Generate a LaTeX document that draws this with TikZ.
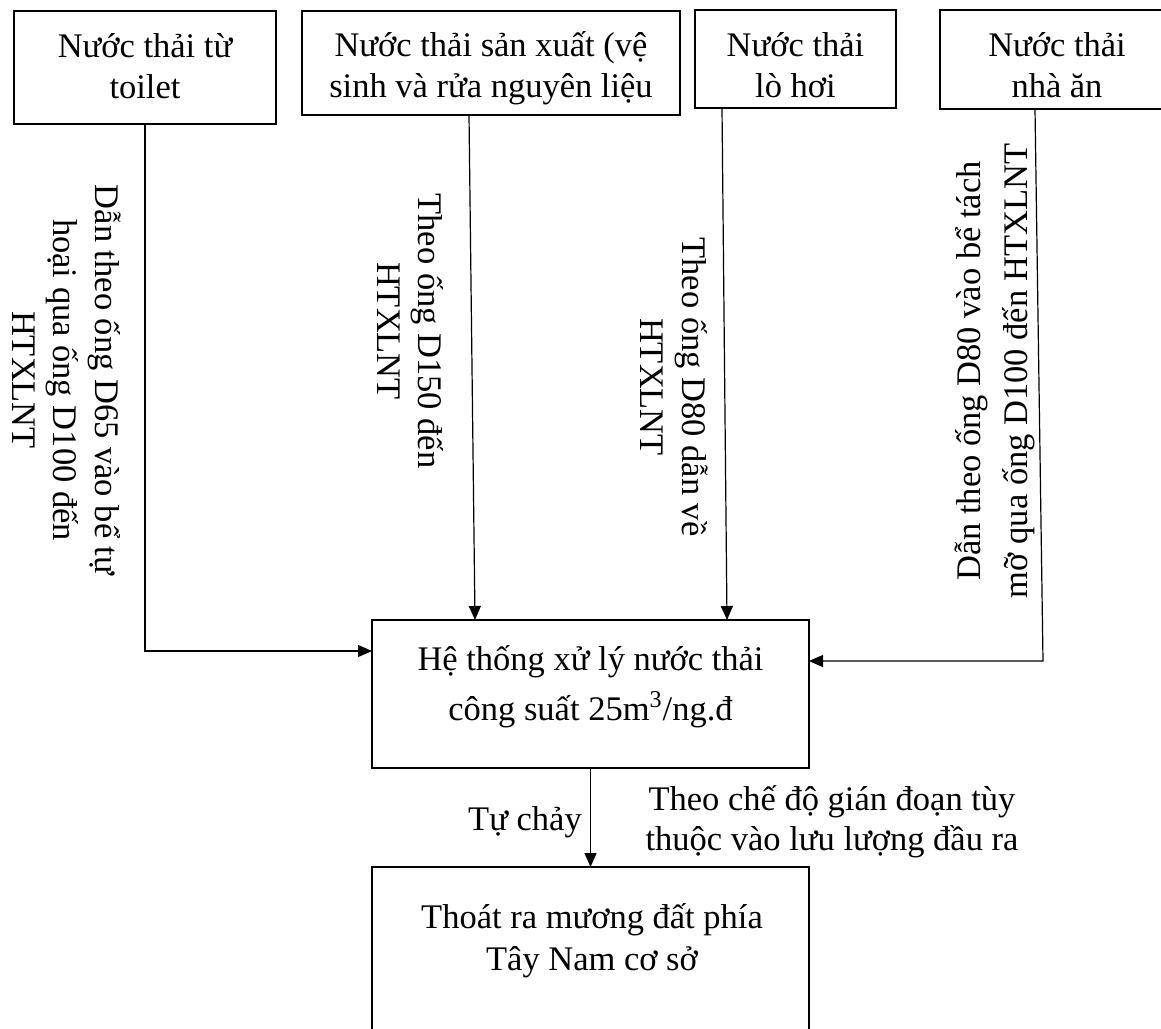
\documentclass[tikz,border=0pt]{standalone}
\usepackage{fontspec}
\setmainfont{Liberation Serif}
\usetikzlibrary{calc,arrows.meta}
\begin{document}
\begin{tikzpicture}[x=0.5pt,y=-0.5pt,
  box/.style={draw,line width=1.2pt,inner sep=0pt,outer sep=0pt,anchor=north west},
  lbl/.style={inner sep=0pt,anchor=base,align=center,font=\fontsize{17.25pt}{20.5pt}\selectfont},
  pipe/.style={line width=0.6pt},
  flow/.style={pipe,-{Triangle[length=7pt,width=6pt]}}]
\useasboundingbox (0,0) rectangle (1161,1028);
\clip (0,0) rectangle (1161,1028);

% source boxes
\node[box,minimum width=131pt,minimum height=56.5pt] (b1) at (14,11) {};
\node[box,minimum width=189pt,minimum height=52pt] (b2) at (302,11) {};
\node[box,minimum width=100.5pt,minimum height=49pt] (b3) at (695,10) {};
\node[box,minimum width=117pt,minimum height=49.5pt] (b4) at (940,10) {};
% treatment plant and outlet
\node[box,minimum width=218.5pt,minimum height=74pt] (main) at (372,620) {};
\node[box,minimum width=218.5pt,minimum height=100pt] (out) at (372,867) {};

% box texts (placed at the baseline of their last line)
\node[lbl] (t1) at (145,98) {Nước thải từ\\toilet};
\node[lbl] (t2) at (491,97) {Nước thải sản xuất (vệ\\sinh và rửa nguyên liệu};
\node[lbl] (t3) at (795.5,97) {Nước thải\\lò hơi};
\node[lbl] (t4) at (1057,97) {Nước thải\\nhà ăn};
\node[lbl,font=\fontsize{17.25pt}{25pt}\selectfont] (tm) at (590.5,720)
  {Hệ thống xử lý nước thải\\công suất 25m\textsuperscript{3}/ng.đ};
\node[lbl,font=\fontsize{17.25pt}{21pt}\selectfont] (tout) at (592,970)
  {Thoát ra mương đất phía\\Tây Nam cơ sở};

% pipe descriptions
\node[lbl,rotate=-90,font=\fontsize{17.25pt}{20.75pt}\selectfont] (r1) at (12,380)
  {Dẫn theo ống D65 vào bể tự\\hoại qua ống D100 đến\\HTXLNT};
\node[lbl,rotate=-90] (r2) at (377,331) {Theo ống D150 đến\\HTXLNT};
\node[lbl,rotate=-90,font=\fontsize{17.25pt}{21pt}\selectfont] (r3) at (640,387)
  {Theo ống D80 dẫn về\\HTXLNT};
\node[lbl,rotate=90,font=\fontsize{17.25pt}{23.5pt}\selectfont] (r4) at (1027,371)
  {Dẫn theo ống D80 vào bể tách\\mỡ qua ống D100 đến HTXLNT};
\node[lbl] (tc) at (525,830) {Tự chảy};
\node[lbl,font=\fontsize{17.25pt}{20pt}\selectfont] (tg) at (832,850)
  {Theo chế độ gián đoạn tùy\\thuộc vào lưu lượng đầu ra};

% connectors
\draw[flow] (b1.south) -- ($(main.north west)+(-227,31)$) -- ($(main.north west)+(0,31)$);
\draw[flow] ($(b2.south west)+(167,0)$) -- ($(main.north west)+(103,0)$);
\draw[flow] ($(b3.south west)+(27,0)$) -- ($(main.north west)+(355,0)$);
\draw[flow] ($(b4.south west)+(95,0)$) -- ($(main.north east)+(234,41)$) -- ($(main.north east)+(0,41)$);
\draw[flow] (main.south) -- (out.north);
\end{tikzpicture}
\end{document}
